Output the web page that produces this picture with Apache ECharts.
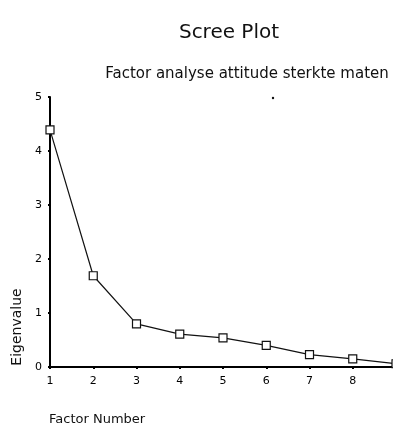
<!DOCTYPE html>
<html>
<head>
<meta charset="utf-8">
<script src="https://cdn.jsdelivr.net/npm/echarts@6/dist/echarts.min.js"></script>
<style>
  html, body { margin: 0; padding: 0; background: #fff; }
  #chart { width: 393px; height: 427px; }
</style>
</head>
<body>
<div id="chart"></div>
<script>
// factor numbers and their eigenvalues
var factors = [1, 2, 3, 4, 5, 6, 7, 8, 9];
var eigenvalues = [4.39, 1.69, 0.80, 0.61, 0.54, 0.40, 0.23, 0.15, 0.06];

var points = [];
for (var i = 0; i < factors.length; i++) {
    points.push([factors[i], eigenvalues[i]]);
}

var chart = echarts.init(document.getElementById("chart"));
var option = {
    animation: false,
    title: [
        {
            text: "Scree Plot",
            left: 224,
            top: 18,
            textAlign: "center",
            textStyle: {fontFamily: "DejaVu Sans", fontSize: 20, fontWeight: "normal", color: "#111"}
        },
        {
            text: "Factor analyse attitude sterkte maten",
            left: 242,
            top: 62,
            textAlign: "center",
            textStyle: {fontFamily: "DejaVu Sans", fontSize: 15, fontWeight: "normal", color: "#111"}
        }
    ],
    graphic: [
        {
            type: "text",
            x: 10,
            y: 327,
            rotation: Math.PI / 2,
            style: {
                text: "Eigenvalue",
                font: "14px DejaVu Sans",
                fill: "#111",
                align: "center",
                verticalAlign: "top"
            }
        },
        {
            type: "text",
            x: 49,
            y: 420,
            style: {
                text: "Factor Number",
                font: "13px DejaVu Sans",
                fill: "#111",
                align: "left",
                verticalAlign: "middle"
            }
        },
        {
            type: "circle",
            shape: {cx: 273, cy: 98, r: 1.2},
            style: {fill: "#111"}
        }
    ],
    grid: {left: 50, right: -3, top: 97, bottom: 60, outerBoundsMode: "none", containLabel: false},
    xAxis: {
        type: "value",
        min: 1,
        max: 9,
        interval: 1,
        axisLine: {lineStyle: {color: "#000", width: 2}},
        axisTick: {show: true, length: 2, lineStyle: {color: "#000", width: 2}},
        axisLabel: {color: "#000", fontFamily: "DejaVu Sans", fontSize: 11, margin: 9},
        splitLine: {show: false}
    },
    yAxis: {
        type: "value",
        min: 0,
        max: 5,
        interval: 1,
        axisLine: {show: true, lineStyle: {color: "#000", width: 2}},
        axisTick: {show: true, length: 2, lineStyle: {color: "#000", width: 2}},
        axisLabel: {color: "#000", fontFamily: "DejaVu Sans", fontSize: 11, margin: 8},
        splitLine: {show: false}
    },
    series: [
        {
            type: "line",
            data: points,
            symbol: "rect",
            symbolSize: 8,
            showAllSymbol: true,
            clip: false,
            lineStyle: {color: "#111", width: 1.2},
            itemStyle: {color: "#fff", borderColor: "#111", borderWidth: 1.2}
        }
    ]
};
chart.setOption(option);
</script>
</body>
</html>
